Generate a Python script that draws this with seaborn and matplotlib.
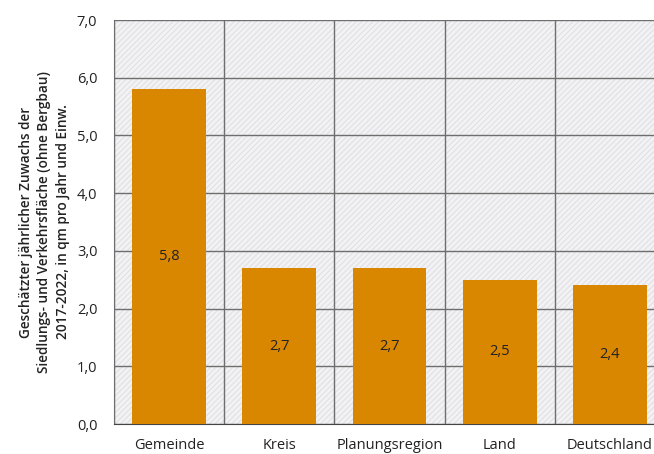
import matplotlib
matplotlib.use("Agg")
import matplotlib.pyplot as plt
from matplotlib.patches import Rectangle
from matplotlib.ticker import FixedLocator
import seaborn as sns
import pandas as pd

# Data
regions = ["Gemeinde", "Kreis", "Planungsregion", "Land", "Deutschland"]
values = [5.8, 2.7, 2.7, 2.5, 2.4]
value_labels = ["5,8", "2,7", "2,7", "2,5", "2,4"]
y_ticks = [0, 1, 2, 3, 4, 5, 6, 7]
y_tick_labels = ["0,0", "1,0", "2,0", "3,0", "4,0", "5,0", "6,0", "7,0"]
y_title = ("Geschätzter jährlicher Zuwachs der\n"
           "Siedlungs- und Verkehrsfläche (ohne Bergbau)\n"
           "2017-2022, in qm pro Jahr und Einw.")

df = pd.DataFrame({"Region": regions, "Wert": values})

sns.set_style("white")
plt.rcParams["font.family"] = ["Open Sans", "DejaVu Sans"]
plt.rcParams["hatch.color"] = "#dcdce0"
plt.rcParams["hatch.linewidth"] = 0.6

fig = plt.figure(figsize=(6.54, 4.54), dpi=100)
# plot area runs past the right edge, like the cropped original
ax = fig.add_axes([114 / 654, 30 / 454, 551 / 654, 404 / 454])

# hatched light background
ax.add_patch(Rectangle((0, 0), 1, 1, transform=ax.transAxes,
                       facecolor="#f2f2f4", edgecolor="#dcdce0",
                       hatch="//////", linewidth=0, zorder=0))

sns.barplot(data=df, x="Region", y="Wert", color="#d98600",
            width=0.67, saturation=1, linewidth=0, ax=ax, zorder=3)

ax.set_ylim(0, 7)
ax.set_xlim(-0.5, len(regions) - 0.5)
ax.set_yticks(y_ticks)
ax.set_yticklabels(y_tick_labels)

# category boundaries for grid and ticks
ax.xaxis.set_minor_locator(FixedLocator([i - 0.5 for i in range(len(regions) + 1)]))
ax.grid(axis="y", which="major", color="#6e6e6e", linewidth=1.0, zorder=1)
ax.grid(axis="x", which="minor", color="#6e6e6e", linewidth=1.0, zorder=1)
ax.set_axisbelow(True)

ax.tick_params(axis="x", which="major", length=0, pad=10, labelsize=10.5, colors="#222222")
ax.tick_params(axis="x", which="minor", length=6, width=1, color="#444444", direction="out")
ax.tick_params(axis="y", length=3, width=1, color="#444444", direction="out",
               pad=9, labelsize=10.5, labelcolor="#222222")

for s in ["top", "right"]:
    ax.spines[s].set_visible(False)
ax.spines["left"].set_color("#6e6e6e")
ax.spines["bottom"].set_color("#444444")

ax.set_xlabel("")
ax.set_ylabel(y_title, fontsize=9.8, fontweight="semibold", color="#222222",
              linespacing=1.4, labelpad=5)

for i, v in enumerate(values):
    ax.text(i, v / 2, value_labels[i], ha="center", va="center",
            fontsize=10.5, color="#222222", zorder=4)

plt.savefig("out.png", dpi=100)
plt.close()
